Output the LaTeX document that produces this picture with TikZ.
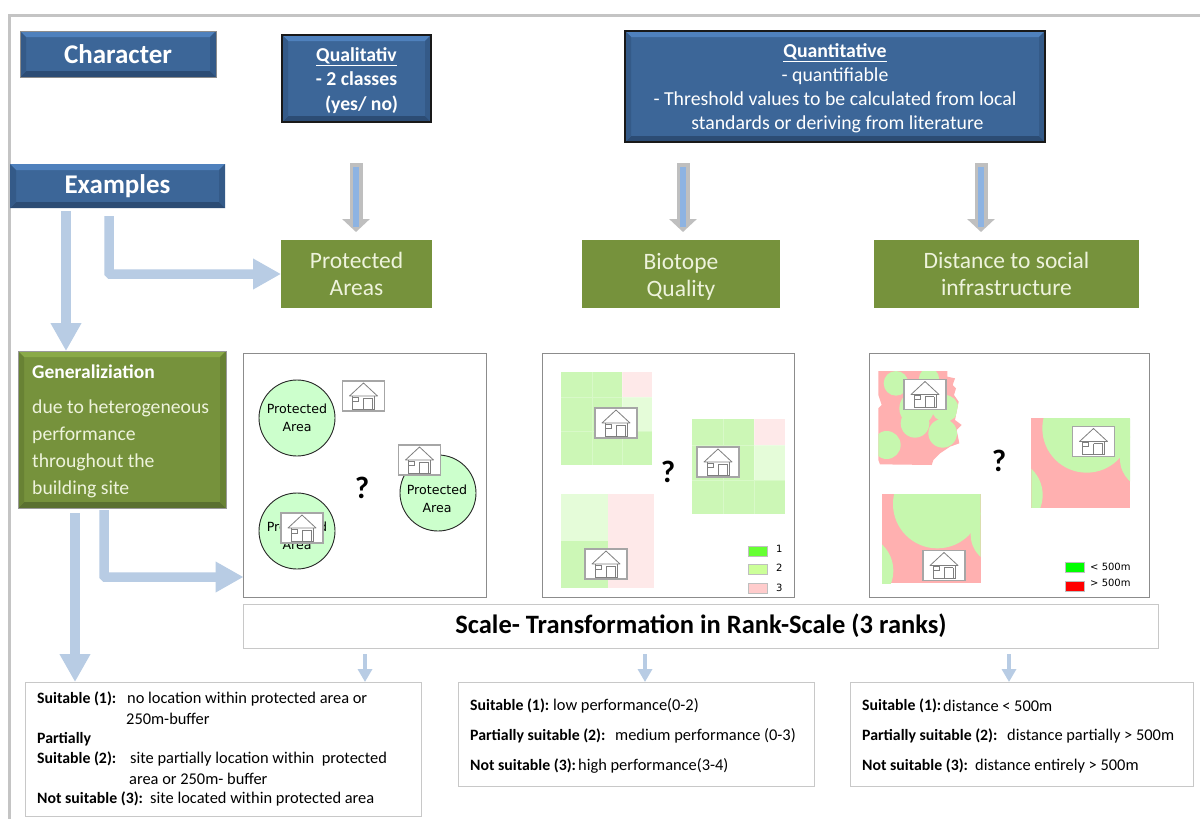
\documentclass[tikz,border=0pt]{standalone}
\usepackage{fontspec}
\setmainfont{Carlito}
\newfontfamily\dvfont{DejaVu Sans}
\usetikzlibrary{arrows.meta,calc}
\definecolor{bluemain}{HTML}{3C6698}
\definecolor{bluelight}{HTML}{4F81BD}
\definecolor{bluedark}{HTML}{2C4C74}
\definecolor{blueside}{HTML}{345A88}
\definecolor{greenmain}{HTML}{76923C}
\definecolor{greenlight}{HTML}{8AAA48}
\definecolor{greendark}{HTML}{5A7030}
\definecolor{greenside}{HTML}{688234}
\definecolor{flow}{HTML}{B8CCE4}
\definecolor{arrowgray}{HTML}{BFBFBF}
\definecolor{arrowblue}{HTML}{8DB3E2}
\definecolor{framegray}{HTML}{C4C4C4}
\definecolor{panelgray}{HTML}{8C8C8C}
\definecolor{txtgray}{HTML}{C8C8C8}
\definecolor{circfill}{HTML}{CCFFCC}
\definecolor{cella}{HTML}{CCF7B6}
\definecolor{cellb}{HTML}{E5FCD9}
\definecolor{cellc}{HTML}{FEE9E9}
\definecolor{pinkred}{HTML}{FFB0B0}
\definecolor{softgreen}{HTML}{C6F7AE}
\definecolor{labeltxt}{HTML}{EEF3DC}
\definecolor{legone}{HTML}{66FF33}
\definecolor{legtwo}{HTML}{CCFF99}
\definecolor{legthree}{HTML}{FFCCCC}
\definecolor{houseline}{HTML}{7F7F7F}
\definecolor{houseedge}{HTML}{A6A6A6}
\tikzset{
  x=1pt,y=-1pt,
  boxat/.style={anchor=north west,inner sep=0pt,outer sep=0pt},
  bevelbox/.style n args={4}{boxat,fill=#1,align=center,text=white,
    path picture={
      \coordinate (NW) at (path picture bounding box.north west);
      \coordinate (NE) at (path picture bounding box.north east);
      \coordinate (SW) at (path picture bounding box.south west);
      \coordinate (SE) at (path picture bounding box.south east);
      \fill[#2] (NW)--(NE)--($(NE)+(-6,6)$)--($(NW)+(6,6)$)--cycle;
      \fill[#3] (SW)--(SE)--($(SE)+(-6,-6)$)--($(SW)+(6,-6)$)--cycle;
      \fill[#4] (NE)--(SE)--($(SE)+(-6,-6)$)--($(NE)+(-6,6)$)--cycle;
      \fill[#4] (NW)--(SW)--($(SW)+(6,-6)$)--($(NW)+(6,6)$)--cycle;
    }},
  bluebox/.style={bevelbox={bluemain}{bluelight}{bluedark}{blueside}},
  greenlabel/.style={boxat,fill=greenmain,align=center,text=labeltxt,font=\fontsize{23.5}{27}\selectfont},
  flowarrow/.style={draw=flow,line width=9.5pt,rounded corners=1pt,-{Triangle[length=28pt,width=29pt]}},
  smallarrow/.style={draw=flow,line width=3.5pt,-{Triangle[length=13pt,width=14pt]}},
  grayarrow/.style={draw=arrowgray,line width=13pt,-{Triangle[length=13pt,width=27pt]}},
  blueinner/.style={draw=arrowblue,line width=6pt},
  panel/.style={boxat,draw=panelgray,line width=1pt,fill=white},
  txtbox/.style={boxat,draw=txtgray,line width=1pt,fill=white},
  pa/.style={circle,draw=black!85,line width=.9pt,fill=circfill,minimum size=76pt,inner sep=0pt,align=center,text=black,font=\dvfont\fontsize{12.6}{18}\selectfont},
  patext/.style={inner sep=0pt,align=center,text=black,font=\dvfont\fontsize{12.6}{18}\selectfont},
  quest/.style={inner sep=0pt,font=\bfseries\fontsize{31}{31}\selectfont},
  lab/.style={anchor=west,inner sep=0pt,yshift=-1pt,text=black,font=\fontsize{16.4}{18}\selectfont},
  blab/.style={lab,font=\bfseries\fontsize{15.8}{18}\selectfont},
  legtxt/.style={anchor=west,inner sep=0pt,font=\dvfont\fontsize{10}{12}\selectfont},
  gentxt/.style={anchor=west,inner sep=0pt,text=labeltxt,font=\fontsize{19.7}{22}\selectfont},
  swatch/.style={boxat,draw=arrowgray,line width=1pt},
  cellline/.style={draw=white,opacity=.25,line width=.5pt},
  housebox/.style={draw=houseedge,line width=1.5pt,fill=white,minimum width=42pt,minimum height=30pt,inner sep=0pt},
  house/.pic={
    \node[housebox] {};
    \draw[houseline,line width=.8pt,line join=round] (-14,0)--(0,-13)--(14,0)--cycle;
    \draw[houseline,line width=.8pt] (-11,0)--(-11,13)--(11,13)--(11,0) (0,2)--(0,13) (9,2)--(9,13) (0,2)--(9,2);
    \draw[houseline,line width=.8pt] (-11,1) rectangle (-5,5);
  },
}
\begin{document}
\begin{tikzpicture}
\useasboundingbox (0,0) rectangle (1200,819);
\fill[white] (0,0) rectangle (1200,819);
\coordinate (fa) at (9,819);
\coordinate (fb) at (9,15);
\coordinate (fc) at (1200,15);
\draw[framegray,line width=3pt] (fa)--(fb)--(fc);

% header boxes
\node[bluebox,draw=black!45,line width=1pt,minimum width=196pt,minimum height=46pt,font=\bfseries\fontsize{27}{30}\selectfont] (character) at (20,31) {Character};
\node[bluebox,draw=black!90,line width=1.5pt,minimum width=149pt,minimum height=87pt,font=\bfseries\fontsize{19.7}{24.5}\selectfont] (quali) at (282,35) {\rule{0pt}{18pt}\underline{Qualitativ}\\- 2 classes\\\hspace*{10pt}(yes/ no)};
\node[bluebox,draw=black!90,line width=1.5pt,minimum width=420pt,minimum height=111pt,font=\fontsize{19.8}{24}\selectfont] (quanti) at (625,31) {\rule{0pt}{18pt}{\bfseries\underline{Quantitative}}\\- quantifiable\\- Threshold values to be calculated from local\\\hspace*{5pt}standards or deriving from literature};
\node[bluebox,minimum width=215pt,minimum height=44pt,font=\bfseries\fontsize{27}{30}\selectfont] (examples) at (10,164) {\raisebox{-3pt}{Examples}};

% green labels
\node[greenlabel,minimum width=151pt,minimum height=68pt] (prot) at (281,240) {Protected\\Areas};
\node[greenlabel,minimum width=198pt,minimum height=68pt] (bio) at (582,240) {\rule{0pt}{21pt}Biotope\\Quality};
\node[greenlabel,minimum width=265pt,minimum height=68pt] (dist) at (874,240) {Distance to social\\infrastructure};

% gray arrows
\coordinate (g1) at (356,163);
\coordinate (g2) at (683,163);
\coordinate (g3) at (981,163);
\draw[grayarrow,shorten >=8pt] (g1)--(g1|-prot.north);
\draw[blueinner] ($(g1)+(0,4)$)--($(g1)+(0,64)$);
\draw[grayarrow,shorten >=8pt] (g2)--(g2|-bio.north);
\draw[blueinner] ($(g2)+(0,4)$)--($(g2)+(0,64)$);
\draw[grayarrow,shorten >=8pt] (g3)--(g3|-dist.north);
\draw[blueinner] ($(g3)+(0,4)$)--($(g3)+(0,64)$);

% generalization
\node[bevelbox={greenmain}{greenlight}{greendark}{greenside},draw=black!40,line width=1pt,minimum width=208pt,minimum height=157pt] (gen) at (18,351) {};
\node[anchor=west,inner sep=0pt,text=white,font=\bfseries\fontsize{19.5}{20}\selectfont] (gt0) at (32,372) {Generaliziation};
\node[gentxt] (gt1) at (32,408.5) {due to heterogeneous};
\node[gentxt] (gt2) at (32,435.5) {performance};
\node[gentxt] (gt3) at (32,462.5) {throughout the};
\node[gentxt] (gt4) at (32,489.5) {building site};

% panels
\node[panel,minimum width=243pt,minimum height=244pt] (p1) at (243.5,353) {};
\node[panel,minimum width=252pt,minimum height=244pt] (p2) at (542.5,353) {};
\node[panel,minimum width=280pt,minimum height=244pt] (p3) at (869.5,353) {};
\node[txtbox,minimum width=915pt,minimum height=44pt,font=\bfseries\fontsize{26.5}{30}\selectfont,text=black] (scale) at (243.5,604) {Scale- Transformation in Rank-Scale (3 ranks)};

% flow arrows
\coordinate (a1) at (66,211);
\coordinate (a2) at (109,216);
\coordinate (a3) at (75,513);
\coordinate (a4) at (104,510);
\node[txtbox,minimum width=396pt,minimum height=134pt] (t1) at (25,682) {};
\node[txtbox,minimum width=356pt,minimum height=104pt] (t2) at (458.5,682) {};
\node[txtbox,minimum width=343pt,minimum height=104pt] (t3) at (850.5,682) {};
\draw[flowarrow] (a1)--(a1|-gen.north);
\draw[flowarrow] (a2)|-(prot.west);
\draw[flowarrow] (a3)--(a3|-t1.north);
\draw[flowarrow] (a4)|-(p1.west|-0,577);
\coordinate (s1) at (365,654);
\coordinate (s2) at (645,654);
\coordinate (s3) at (1009,654);
\draw[smallarrow] (s1)--(s1|-t1.north);
\draw[smallarrow] (s2)--(s2|-t2.north);
\draw[smallarrow] (s3)--(s3|-t3.north);

% panel 1
\node[pa] (c1) at (297,418) {Protected\\Area};
\node[pa] (c2) at (297,531) {};
\node[patext] (c2t) at (297,536) {Protected\\Area};
\node[pa] (c3) at (438,493) {};
\node[patext] (c3t) at (437,499) {Protected\\Area};
\pic (h11) at (363.5,396) {house};
\pic (h12) at (419.5,460) {house};
\pic (h13) at (302,528) {house};
\node[quest] (q1) at (362,488) {?};

% panel 2
\fill[cella] (561,372) rectangle (652,465);
\fill[cellc] (622,372) rectangle (652,397);
\fill[cellb] (622,397) rectangle (652,431);
\draw[cellline] (592,372)--(592,465) (622,372)--(622,465) (561,397)--(652,397) (561,431)--(652,431);
\fill[cella] (692,419) rectangle (785,514);
\fill[cellc] (754,419) rectangle (785,445);
\fill[cellb] (754,445) rectangle (785,480);
\draw[cellline] (723,419)--(723,514) (754,419)--(754,514) (692,445)--(785,445) (692,480)--(785,480);
\fill[cellc] (561,494) rectangle (654,588);
\fill[cellb] (561,494) rectangle (608,541);
\fill[cella] (561,541) rectangle (608,588);
\pic (h21) at (616,423) {house};
\pic (h22) at (718,462) {house};
\pic (h23) at (606,564) {house};
\node[quest] (q2) at (668,472) {?};
\node[swatch,fill=legone,minimum width=19pt,minimum height=10pt] (l1) at (748,546) {};
\node[swatch,fill=legtwo,minimum width=19pt,minimum height=10pt] (l2) at (748,564) {};
\node[swatch,fill=legthree,minimum width=19pt,minimum height=10pt] (l3) at (748,583) {};
\node[legtxt] (lt1) at (776,549) {1};
\node[legtxt] (lt2) at (776,568) {2};
\node[legtxt] (lt3) at (776,588) {3};

% panel 3
\begin{scope}[shift={(860,345)},scale=1/3]
  \begin{scope}
    \clip (55,78)--(262,78)--(262,95)--(285,100)--(278,120)--(288,130)--(282,150)--(296,170)--(285,225)--(305,240)--(290,255)--(298,295)--(270,305)--(240,325)--(220,345)--(215,360)--(60,358)--(55,345)--(55,190)--(65,180)--(55,150)--cycle;
    \fill[pinkred] (50,70) rectangle (310,365);
    \fill[softgreen] (108,115) circle[radius=37];
    \fill[softgreen] (207,100) circle[radius=30];
    \fill[softgreen] (170,190) circle[radius=52];
    \fill[softgreen] (165,235) circle[radius=43];
    \fill[softgreen] (248,265) circle[radius=43];
    \fill[softgreen] (255,190) circle[radius=40];
    \fill[softgreen] (80,300) circle[radius=42];
  \end{scope}
  \fill[pinkred] (514,220) rectangle (810,488);
  \begin{scope}
    \clip (514,220) rectangle (810,488);
    \fill[softgreen] (680,250) circle[radius=133];
    \fill[softgreen] (870,342) circle[radius=90];
    \fill[softgreen] (440,450) circle[radius=108];
  \end{scope}
  \fill[pinkred] (66,447) rectangle (362,714);
  \begin{scope}
    \clip (66,447) rectangle (362,714);
    \fill[softgreen] (232,477) circle[radius=133];
    \fill[softgreen] (422,569) circle[radius=90];
    \fill[softgreen] (-8,677) circle[radius=108];
  \end{scope}
\end{scope}
\pic (h31) at (925,394.5) {house};
\pic (h32) at (1093.5,441.5) {house};
\pic (h33) at (944,565.5) {house};
\node[quest] (q3) at (999,461) {?};
\node[swatch,fill=green,minimum width=19pt,minimum height=10pt] (m1) at (1065,562) {};
\node[swatch,fill=red,minimum width=19pt,minimum height=10pt] (m2) at (1065,581) {};
\node[legtxt] (mt1) at (1090,567) {< 500m};
\node[legtxt] (mt2) at (1090,583) {> 500m};

% text box 1
\node[blab] (a11) at (37,698) {Suitable (1):};
\node[lab] (a12) at (127,698) {no location within protected area or};
\node[lab] (a13) at (126,718) {250m-buffer};
\node[blab] (a21) at (37,738) {Partially};
\node[blab] (a22) at (37,758) {Suitable (2):};
\node[lab] (a23) at (130,758) {site partially location within \ protected};
\node[lab] (a24) at (129,778) {area or 250m- buffer};
\node[blab] (a31) at (37,798) {Not suitable (3):};
\node[lab] (a32) at (150,798) {site located within protected area};

% text box 2
\node[blab] (b11) at (470,705) {Suitable (1):};
\node[lab] (b12) at (553,705) {low performance(0-2)};
\node[blab] (b21) at (470,735) {Partially suitable (2):};
\node[lab] (b22) at (615,735) {medium performance (0-3)};
\node[blab] (b31) at (470,765) {Not suitable (3):};
\node[lab] (b32) at (578,765) {high performance(3-4)};

% text box 3
\node[blab] (d11) at (862,705) {Suitable (1):};
\node[lab] (d12) at (943,705) {distance < 500m};
\node[blab] (d21) at (862,735) {Partially suitable (2):};
\node[lab] (d22) at (1007,735) {distance partially > 500m};
\node[blab] (d31) at (862,765) {Not suitable (3):};
\node[lab] (d32) at (975,765) {distance entirely > 500m};
\end{tikzpicture}
\end{document}
